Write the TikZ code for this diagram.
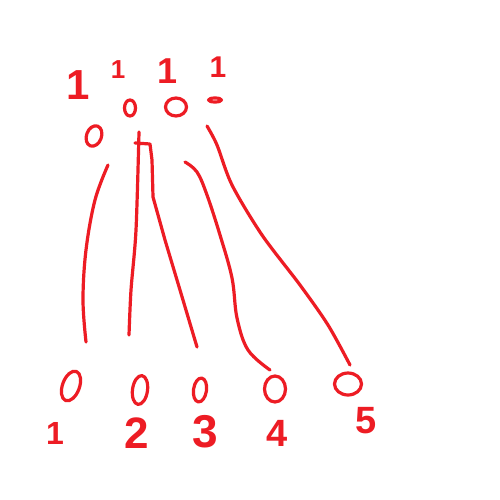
\documentclass[tikz,border=0pt]{standalone}
\usepackage{fontspec}
\setmainfont{Liberation Sans}
\usetikzlibrary{shapes.geometric}
\definecolor{pen}{HTML}{ED1C24}
\begin{document}
\begin{tikzpicture}[x=1pt,y=-1pt,
  ink/.style={draw=pen,line width=3.2pt,line cap=round,line join=round},
  ring/.style={ink,ellipse,inner sep=0pt},
  digit/.style={text=pen,inner sep=0pt}]
\useasboundingbox[fill=white] (0,0) rectangle (500,500);
% top labels
\node[digit,font=\fontsize{42}{42}\selectfont\bfseries] (n1) at (78,85) {1};
\node[digit,font=\fontsize{26}{26}\selectfont\bfseries] (n2) at (118,70) {1};
\node[digit,font=\fontsize{36}{36}\selectfont\bfseries] (n3) at (168,71) {1};
\node[digit,font=\fontsize{30}{30}\selectfont\bfseries] (n4) at (218,67) {1};
% top circles
\node[ring,minimum width=15pt,minimum height=21pt,rotate=-20] (t1) at (94,136) {};
\node[ring,minimum width=11pt,minimum height=16pt] (t2) at (130,108) {};
\node[ring,minimum width=21pt,minimum height=18pt] (t3) at (176,107) {};
\node[ring,minimum width=13pt,minimum height=4pt] (t4) at (215,100) {};
% bottom circles
\node[ring,minimum width=17pt,minimum height=31pt,rotate=-20] (b1) at (71,386) {};
\node[ring,minimum width=15pt,minimum height=29pt,rotate=-8] (b2) at (140,390) {};
\node[ring,minimum width=13pt,minimum height=24pt,rotate=-8] (b3) at (200,390) {};
\node[ring,minimum width=21pt,minimum height=26pt] (b4) at (275,389) {};
\node[ring,minimum width=27pt,minimum height=22pt] (b5) at (348,384) {};
% bottom labels
\node[digit,font=\fontsize{32}{32}\selectfont\bfseries] (m1) at (55,433) {1};
\node[digit,font=\fontsize{44}{44}\selectfont\bfseries] (m2) at (137,433) {2};
\node[digit,font=\fontsize{46}{46}\selectfont\bfseries] (m3) at (205,432) {3};
\node[digit,font=\fontsize{38}{38}\selectfont\bfseries] (m4) at (277,433) {4};
\node[digit,font=\fontsize{38}{38}\selectfont\bfseries] (m5) at (366,421) {5};
% connector ends
\coordinate (s1) at (108,165); \coordinate (e1) at (86,342);
\coordinate (s2) at (139,132); \coordinate (e2) at (129,335);
\coordinate (s3) at (135,143); \coordinate (e3) at (197,347);
\coordinate (s4) at (185,162); \coordinate (e4) at (270,370);
\coordinate (s5) at (207,126); \coordinate (e5) at (350,365);
% connectors
\draw[ink] plot[smooth,tension=0.6] coordinates {(s1) (95,200) (86,250) (83,300) (e1)};
\draw[ink] plot[smooth,tension=0.5] coordinates {(s2) (136,230) (131,290) (e2)};
\draw[ink] (s3) -- (150,144) -- (152,160) -- (153,197) -- (165,240) -- (180,290) -- (e3);
\draw[ink] plot[smooth,tension=0.6] coordinates {(s4) (197,172) (207,195) (220,235) (232,278) (237,318) (248,350) (e4)};
\draw[ink] plot[smooth,tension=0.5] coordinates {(s5) (217,145) (232,185) (262,235) (300,285) (328,325) (e5)};
\end{tikzpicture}
\end{document}
